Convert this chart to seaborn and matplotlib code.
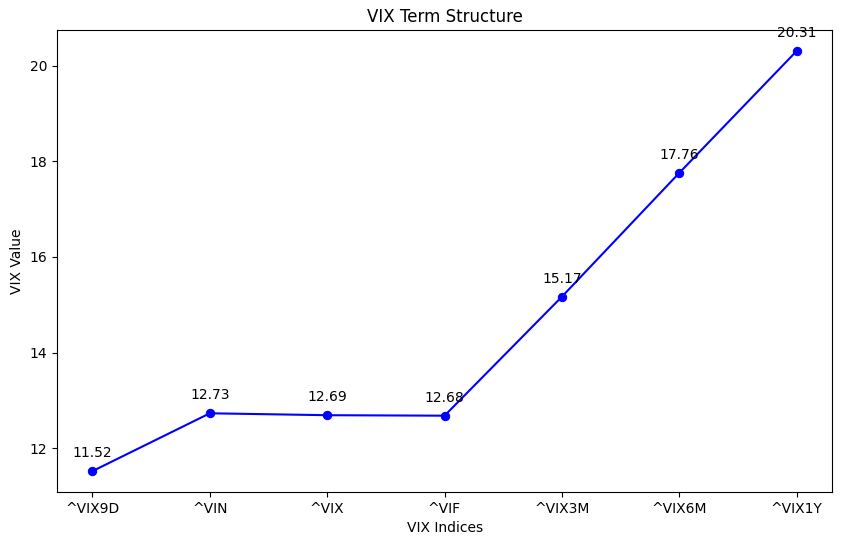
import matplotlib
matplotlib.use("Agg")
import matplotlib.pyplot as plt
import seaborn as sns
import pandas as pd

indices = ["^VIX9D", "^VIN", "^VIX", "^VIF", "^VIX3M", "^VIX6M", "^VIX1Y"]
values = [11.52, 12.73, 12.69, 12.68, 15.17, 17.76, 20.31]

df = pd.DataFrame({"index": indices, "value": values})

fig = plt.figure(figsize=(8.42, 5.45), dpi=100)
ax = fig.add_axes([0.068, 0.097, 0.92, 0.848])

sns.lineplot(data=df, x="index", y="value", ax=ax, color="blue",
             marker="o", markersize=6, markeredgecolor="blue", sort=False)

for i, v in enumerate(values):
    ax.annotate(f"{v:.2f}", (i, v), textcoords="offset points",
                xytext=(0, 10), ha="center")

ax.set_title("VIX Term Structure")
ax.set_xlabel("VIX Indices")
ax.set_ylabel("VIX Value")

fig.savefig("out.png", dpi=100)
